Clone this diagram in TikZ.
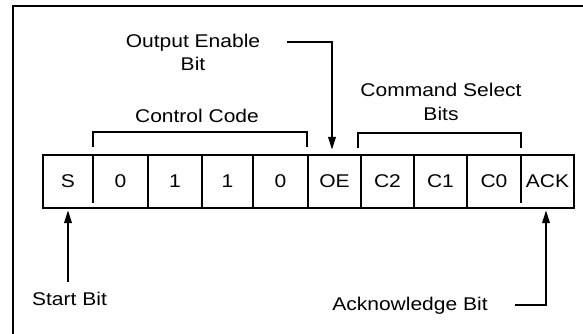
\documentclass[tikz,border=0pt]{standalone}
\usepackage{fontspec}
\setmainfont[FakeStretch=1.14]{Liberation Sans}
\usetikzlibrary{arrows.meta}
\begin{document}
\begin{tikzpicture}[x=1bp,y=-1bp,
  every node/.style={font=\fontsize{18.5}{23.5}\selectfont},
  ln/.style={line width=2bp},
  arr/.style={ln,-{Triangle[length=13bp,width=7.5bp]}},
  cell/.style={inner sep=0pt,minimum height=53bp},
]
\useasboundingbox (0,0) rectangle (583,333);
% frame (only left and top edges visible)
\draw[line width=2.2bp] (13,340) -- (13,6) -- (590,6);
% register cells
\node[cell,minimum width=50bp] (S)   at (68,181.5)    {S};
\node[cell,minimum width=55bp] (b3)  at (120.5,181.5) {0};
\node[cell,minimum width=54bp] (b2)  at (175,181.5)   {1};
\node[cell,minimum width=51bp] (b1)  at (227.5,181.5) {1};
\node[cell,minimum width=55bp] (b0)  at (280.5,181.5) {0};
\node[cell,minimum width=53bp] (OE)  at (334.5,181.5) {OE};
\node[cell,minimum width=53bp] (C2)  at (387.5,181.5) {C2};
\node[cell,minimum width=53bp] (C1)  at (440.5,181.5) {C1};
\node[cell,minimum width=54bp] (C0)  at (494,181.5)   {C0};
\node[cell,minimum width=53bp] (ACK) at (547.5,181.5) {ACK};
\draw[ln] (S.north west) rectangle (ACK.south east);
\foreach \c in {b3,b2,b1,b0,OE,C2,C1} \draw[ln] (\c.north east) -- (\c.south east);
\draw[ln] (S.north east) -- ++(0,48);
\draw[ln] (C0.north east) -- ++(0,48);
% brackets
\draw[ln] (93,147) -- (93,132) -- (307,132) -- (307,147);
\draw[ln] (358,148) -- (358,133) -- (521,133) -- (521,148);
% labels
\node[anchor=base] (cc) at (197,122) {Control Code};
\node[align=center] (cs) at (441,102) {Command Select\\Bits};
\node[align=center] (oel) at (193,52.5) {Output Enable\\Bit};
\node[anchor=base] (sb) at (69.5,305) {Start Bit};
\node[anchor=base] (ab) at (410,310.7) {Acknowledge Bit};
% arrows
\coordinate (oetail) at (287,41.5);
\draw[arr,shorten >=5bp] (oetail) -| ([xshift=-2.5bp]OE.north);
\coordinate (sbtail) at (68,282);
\draw[arr,shorten >=2bp] (sbtail) -- (S.south);
\coordinate (acktail) at (515,305);
\draw[arr,shorten >=2bp] (acktail) -| ([xshift=-1.5bp]ACK.south);
\end{tikzpicture}
\end{document}
